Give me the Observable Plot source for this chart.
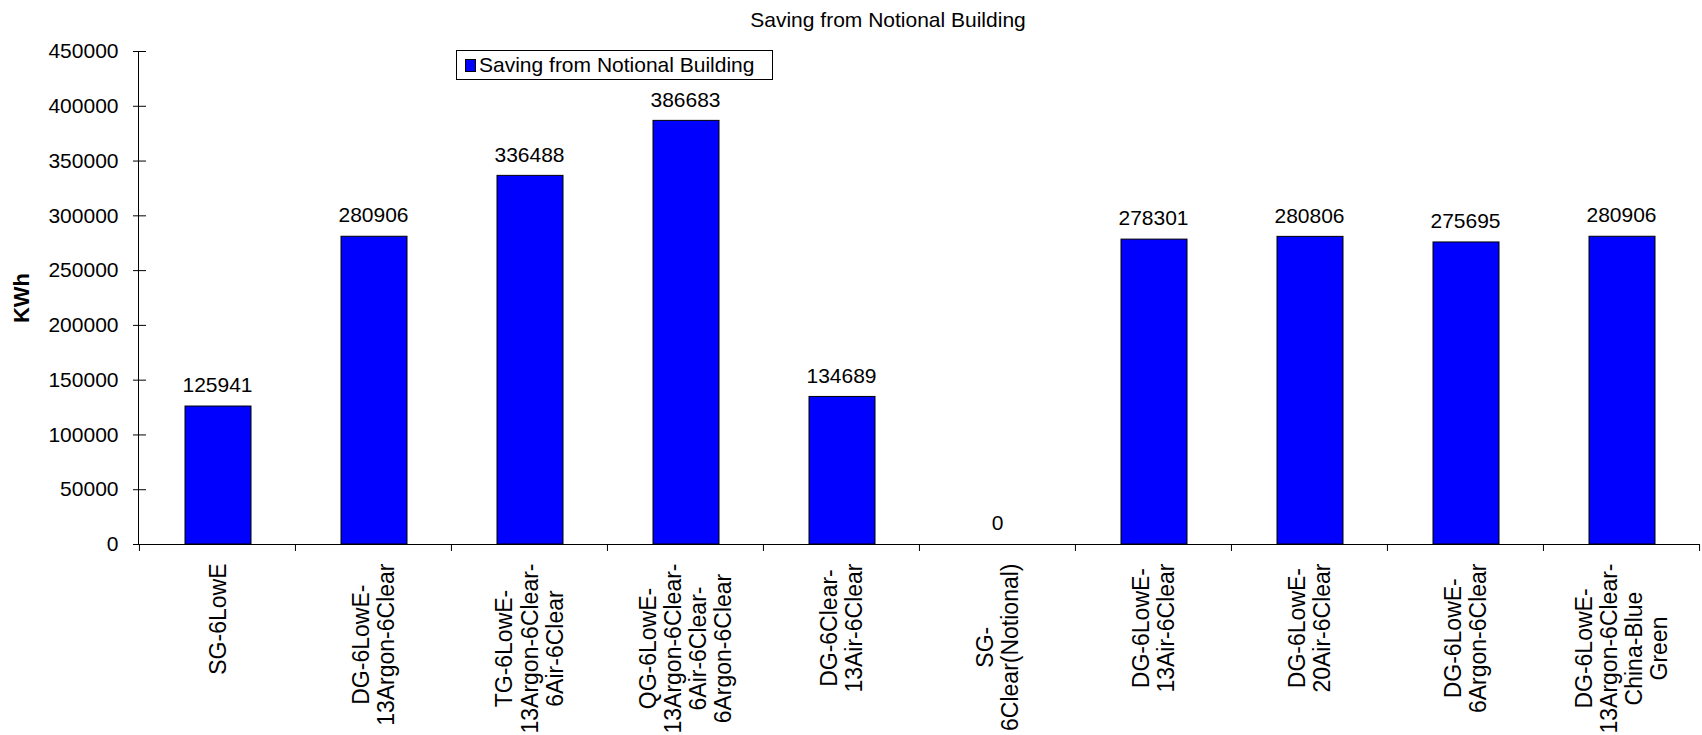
<!DOCTYPE html>
<html>
<head>
<meta charset="utf-8">
<script src="https://cdn.jsdelivr.net/npm/d3@7"></script>
<script src="https://cdn.jsdelivr.net/npm/@observablehq/plot@0.6"></script>
<style>
  html, body { margin: 0; padding: 0; background: #fff; }
  #chart { position: relative; width: 1702px; height: 735px; font-family: "Liberation Sans", Arial, sans-serif; color: #000; }
  #chart svg { position: absolute; left: 0; top: 0; }
  #title { position: absolute; left: 888px; top: 9px; transform: translateX(-50%); font-size: 21px; line-height: 21px; white-space: nowrap; z-index: 2; }
  #legend { position: absolute; left: 456px; top: 50px; width: 317px; height: 30px; box-sizing: border-box; border: 1px solid #000; background: #fff; z-index: 2; }
  #legend .swatch { position: absolute; left: 8px; top: 8px; width: 11px; height: 13px; box-sizing: border-box; border: 1px solid #000; background: #0000ff; }
  #legend .label { position: absolute; left: 22px; top: 0; line-height: 28px; font-size: 21px; white-space: nowrap; }
</style>
</head>
<body>
<div id="chart">
  <div id="title"></div>
  <div id="legend"><span class="swatch"></span><span class="label"></span></div>
</div>
<script>
// Glazing options (line breaks as they wrap under the axis)
const categories = [
  "SG-6LowE",
  "DG-6LowE-\n13Argon-6Clear",
  "TG-6LowE-\n13Argon-6Clear-\n6Air-6Clear",
  "QG-6LowE-\n13Argon-6Clear-\n6Air-6Clear-\n6Argon-6Clear",
  "DG-6Clear-\n13Air-6Clear",
  "SG-\n6Clear(Notional)",
  "DG-6LowE-\n13Air-6Clear",
  "DG-6LowE-\n20Air-6Clear",
  "DG-6LowE-\n6Argon-6Clear",
  "DG-6LowE-\n13Argon-6Clear-\nChina-Blue\nGreen"
];

// Annual energy saving relative to the notional building (kWh)
const savings = [125941, 280906, 336488, 386683, 134689, 0, 278301, 280806, 275695, 280906];

const yTicks = [0, 50000, 100000, 150000, 200000, 250000, 300000, 350000, 400000, 450000];

const seriesName = "Saving from Notional Building";
const chartTitle = "Saving from Notional Building";
const yLabel = "KWh";

const rows = categories.map((c, i) => ({category: c, value: savings[i]}));

const W = 1702, H = 735;
const mL = 138, mR = 3, mT = 51, mB = 191;
const step = (W - mL - mR) / categories.length;
const FONT = "'Liberation Sans', Arial, sans-serif";
const labelSize = 23;
const labelGap = 19; // from axis to the end of the longest line

// Width of the longest line of a wrapped label
const ctx = document.createElement("canvas").getContext("2d");
ctx.font = `${labelSize}px ${FONT}`;
const longestLine = s => Math.max(...s.split("\n").map(l => ctx.measureText(l).width));

// One rotated text mark per category: lines centred on each other, block hanging below the axis
const categoryLabels = categories.map(c =>
  Plot.text([c], {
    x: d => d,
    frameAnchor: "bottom",
    rotate: -90,
    textAnchor: "middle",
    lineAnchor: "middle",
    lineHeight: 1.09,
    fontSize: labelSize,
    dy: labelGap + longestLine(c) / 2
  })
);

const plot = Plot.plot({
  width: W,
  height: H,
  marginLeft: mL,
  marginRight: mR,
  marginTop: mT,
  marginBottom: mB,
  style: {fontFamily: FONT, fontSize: "21px", color: "#000", background: "transparent"},
  x: {type: "band", domain: categories, padding: 0},
  y: {domain: [0, 450000]},
  marks: [
    // bars
    Plot.barY(rows, {x: "category", y: "value", fill: "#0000ff", stroke: "#000", strokeWidth: 1, insetLeft: 46, insetRight: 44}),
    // axis lines
    Plot.frame({anchor: "left", stroke: "#000"}),
    Plot.ruleY([0], {stroke: "#000"}),
    // y ticks crossing the axis, then the tick labels
    Plot.axisY(yTicks, {tickSize: 13, dx: 8, tickFormat: () => "", label: null}),
    Plot.axisY(yTicks, {tickSize: 0, tickPadding: 20, tickFormat: d => String(d), label: null}),
    // category separators below the x axis
    Plot.axisX(categories, {tickSize: 7, dx: -step / 2, tickFormat: () => "", label: null}),
    Plot.axisX(categories.slice(-1), {tickSize: 7, dx: step / 2, tickFormat: () => "", label: null}),
    // category labels, rotated
    ...categoryLabels,
    // value labels above bars
    Plot.text(rows, {x: "category", y: "value", text: d => String(d.value), dy: -21, lineAnchor: "middle"}),
    // y axis title
    Plot.text([yLabel], {frameAnchor: "left", dx: -117, rotate: -90, fontWeight: "bold", fontSize: 22, letterSpacing: 2, lineAnchor: "middle", textAnchor: "middle"})
  ]
});

document.getElementById("chart").appendChild(plot);
document.getElementById("title").textContent = chartTitle;
document.querySelector("#legend .label").textContent = seriesName;
</script>
</body>
</html>
